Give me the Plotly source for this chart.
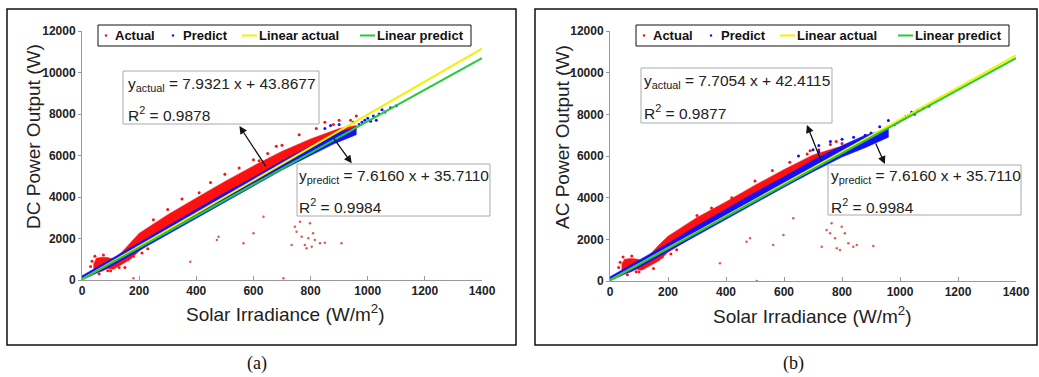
import plotly.graph_objects as go

W, H = 1039, 377

X_TICKS = [0, 200, 400, 600, 800, 1000, 1200, 1400]
Y_TICKS = [0, 2000, 4000, 6000, 8000, 10000, 12000]
Y_TICK_TEXT = ["0", "2000", "4000", "6000", "8000", "10000", "12000"]
FIT_X = [0, 1400]
LEGEND_NAMES = ["Actual", "Predict", "Linear actual", "Linear predict"]

# ---------------- panel (a): DC ----------------
A_RED_X = [40, 50, 70, 90, 110, 140, 170, 200, 300, 400, 500, 600, 700, 800, 900, 960]
A_RED_LO = [550, 380, 420, 560, 520, 760, 1000, 1400, 2400, 3200, 4000, 4800, 5550, 6300, 6900, 7250]
A_RED_HI = [750, 1050, 1100, 1080, 1000, 1350, 1800, 2250, 3150, 3950, 4750, 5500, 6200, 6800, 7300, 7450]
A_BLUE_X = [0, 100, 200, 300, 400, 500, 600, 700, 800, 880, 960]
A_BLUE_LO = [0, 650, 1420, 2200, 2980, 3750, 4520, 5300, 6000, 6550, 7000]
A_BLUE_HI = [200, 1000, 1800, 2600, 3400, 4200, 4950, 5750, 6450, 7050, 7350]
A_RED_EDGE_X = [600, 650, 700, 760, 820, 850, 900, 940, 960, 550, 500, 450, 350, 300, 250,
                120, 140, 160, 180, 130, 60, 90, 75, 45, 210, 230, 410, 620, 680, 880, 30, 35, 100, 150]
A_RED_EDGE_Y = [5800, 6100, 6500, 7000, 7300, 7600, 7700, 7700, 7900, 5400, 5100, 4700, 3900, 3400, 2900,
                700, 850, 1000, 1150, 600, 300, 450, 1200, 1150, 1300, 1500, 4200, 5750, 6450, 7500,
                650, 900, 450, 600]
A_RED_OUT_X = [635, 600, 565, 478, 472, 379, 705, 180, 734, 763, 745, 798, 780, 786, 809, 815,
               833, 850, 908, 769, 751, 792, 804]
A_RED_OUT_Y = [3050, 2250, 1770, 2090, 1930, 880, 80, 80, 1690, 2810, 2570, 2730, 1690, 1525, 2250, 1930,
               1770, 1800, 1770, 2090, 2330, 2010, 1600]
A_BLUE_PTS_X = [970, 990, 1000, 1020, 1040, 1050, 1060, 1080, 1100, 1030, 980, 900, 850, 870, 950, 1010]
A_BLUE_PTS_Y = [7500, 7700, 7800, 7900, 8000, 8200, 8100, 8300, 8400, 7700, 7600, 7500, 7300, 7450, 7600, 7650]
A_FIT_ACTUAL_Y = [43.9, 11148.8]
A_FIT_PREDICT_Y = [35.7, 10698.1]

# ---------------- panel (b): AC ----------------
B_RED_X = [40, 50, 70, 90, 110, 140, 170, 200, 300, 400, 500, 600, 700, 780, 820]
B_RED_LO = [550, 380, 420, 560, 520, 740, 980, 1380, 2250, 3050, 3900, 4650, 5450, 6000, 6300]
B_RED_HI = [800, 1050, 1080, 1060, 1000, 1300, 1750, 2150, 3050, 3800, 4600, 5350, 6050, 6400, 6450]
B_BLUE_X = [0, 100, 200, 300, 400, 500, 600, 700, 800, 880, 960]
B_BLUE_LO = [0, 650, 1420, 2200, 2980, 3750, 4500, 5250, 5950, 6400, 6900]
B_BLUE_HI = [200, 1000, 1800, 2650, 3450, 4250, 5000, 5800, 6500, 7000, 7300]
B_RED_EDGE_X = [500, 560, 620, 680, 690, 720, 760, 800, 780, 120, 140, 160, 180, 60, 90, 75, 45,
                210, 230, 350, 420, 300, 30, 35, 100, 150]
B_RED_EDGE_Y = [4800, 5300, 5700, 6100, 6250, 6300, 6550, 6600, 6700, 700, 850, 1000, 1150, 300, 450,
                1200, 1150, 1300, 1500, 3500, 4000, 3150, 650, 900, 450, 600]
B_RED_OUT_X = [632, 598, 563, 483, 471, 379, 506, 730, 764, 747, 799, 782, 793, 810, 822, 839, 851, 908,
               776, 759]
B_RED_OUT_Y = [3010, 2210, 1730, 2050, 1890, 850, 0, 1650, 2770, 2450, 2610, 1570, 1490, 2290, 1810, 1650,
               1730, 1680, 2050, 2290]
B_BLUE_PTS_X = [700, 720, 760, 800, 840, 880, 900, 930, 960, 980, 1000, 1020, 1040, 1050, 1060, 1080,
                1100, 1010, 1030, 990, 650, 720]
B_BLUE_PTS_Y = [6300, 6500, 6700, 6800, 6900, 7000, 7100, 7400, 7700, 7500, 7700, 7900, 8100, 8000, 8200,
                8300, 8400, 7800, 7950, 7600, 6000, 6200]
B_FIT_ACTUAL_Y = [42.4, 10830.0]
B_FIT_PREDICT_Y = [35.7, 10698.1]

RED, BLUE, YELLOW, GREEN = "#ff1010", "#1010ff", "#f2f200", "#22cc33"
OUT_RED = "#e05a5a"
FONT = "Liberation Sans"


def px(x):
    return x / W


def py(y):
    return 1 - y / H


fig = go.Figure()


def add_panel(xa, ya, rx, rlo, rhi, bx, blo, bhi, rex, rey, rox, roy, bpx, bpy, fa, fp):
    kw = dict(xaxis=xa, yaxis=ya, showlegend=False, hoverinfo="skip")
    fig.add_trace(go.Scatter(x=rx + rx[::-1], y=rlo + rhi[::-1], fill="toself", fillcolor=RED,
                             line=dict(width=0.5, color=RED), mode="lines", **kw))
    fig.add_trace(go.Scatter(x=rex, y=rey, mode="markers", name=LEGEND_NAMES[0],
                             marker=dict(color=RED, size=3), **kw))
    fig.add_trace(go.Scatter(x=rox, y=roy, mode="markers", name=LEGEND_NAMES[0],
                             marker=dict(color=OUT_RED, size=2.5), **kw))
    fig.add_trace(go.Scatter(x=bx + bx[::-1], y=blo + bhi[::-1], fill="toself", fillcolor=BLUE,
                             line=dict(width=0.5, color=BLUE), mode="lines", **kw))
    fig.add_trace(go.Scatter(x=bpx, y=bpy, mode="markers", name=LEGEND_NAMES[1],
                             marker=dict(color=BLUE, size=3), **kw))
    fig.add_trace(go.Scatter(x=FIT_X, y=fa, mode="lines", name=LEGEND_NAMES[2],
                             line=dict(color=YELLOW, width=2), **kw))
    fig.add_trace(go.Scatter(x=FIT_X, y=fp, mode="lines", name=LEGEND_NAMES[3],
                             line=dict(color=GREEN, width=2), **kw))


add_panel("x", "y", A_RED_X, A_RED_LO, A_RED_HI, A_BLUE_X, A_BLUE_LO, A_BLUE_HI,
          A_RED_EDGE_X, A_RED_EDGE_Y, A_RED_OUT_X, A_RED_OUT_Y, A_BLUE_PTS_X, A_BLUE_PTS_Y,
          A_FIT_ACTUAL_Y, A_FIT_PREDICT_Y)
add_panel("x2", "y2", B_RED_X, B_RED_LO, B_RED_HI, B_BLUE_X, B_BLUE_LO, B_BLUE_HI,
          B_RED_EDGE_X, B_RED_EDGE_Y, B_RED_OUT_X, B_RED_OUT_Y, B_BLUE_PTS_X, B_BLUE_PTS_Y,
          B_FIT_ACTUAL_Y, B_FIT_PREDICT_Y)

tickfont = dict(family=FONT, size=12, color="#222", weight="bold")


def xaxis(dom, anchor):
    return dict(domain=dom, anchor=anchor, range=[0, 1400], tickvals=X_TICKS, showgrid=False,
                zeroline=False, showline=True, linecolor="#999", linewidth=1, ticks="inside",
                ticklen=4, tickcolor="#999", tickfont=tickfont, automargin=False)


def yaxis(dom, anchor):
    return dict(domain=dom, anchor=anchor, range=[0, 12000], tickvals=Y_TICKS, ticktext=Y_TICK_TEXT,
                showgrid=False, zeroline=False, showline=True, linecolor="#999", linewidth=1,
                ticks="outside", ticklen=3, tickcolor="#999", tickfont=tickfont, automargin=False)


shapes = []
annotations = []


def text(t, x, y, size, xanchor="left", family=FONT, color="#222", bold=False, angle=0):
    f = dict(family=family, size=size, color=color)
    if bold:
        f["weight"] = "bold"
    annotations.append(dict(text=t, x=px(x), y=py(y), xref="paper", yref="paper", showarrow=False,
                            xanchor=xanchor, yanchor="middle", font=f, textangle=angle, borderpad=0))


def legend_box(dx):
    shapes.append(dict(type="rect", xref="paper", yref="paper", x0=px(98 + dx), x1=px(471 + dx),
                       y0=py(46), y1=py(25), line=dict(color="#111", width=1), fillcolor="white",
                       layer="above"))
    ly = 35.5
    for cx, col in ((106 + dx, RED), (173 + dx, BLUE)):
        shapes.append(dict(type="circle", xref="paper", yref="paper", x0=px(cx - 1.2), x1=px(cx + 1.2),
                           y0=py(ly + 1.2), y1=py(ly - 1.2), fillcolor=col, line=dict(width=0, color=col),
                           layer="above"))
    for x0, col in ((242 + dx, YELLOW), (360 + dx, GREEN)):
        shapes.append(dict(type="line", xref="paper", yref="paper", x0=px(x0), x1=px(x0 + 15),
                           y0=py(ly), y1=py(ly), line=dict(color=col, width=2), layer="above"))
    for name, x0 in zip(LEGEND_NAMES, (114 + dx, 182 + dx, 258 + dx, 376 + dx)):
        text(name, x0, ly, 13, color="#111", bold=True)


def panel_decor(border, box1, box2, l1, l2, l3, l4, t1, t2, arrows, xa, ya, label, label_x,
                ytitle, ytitle_pos, xtitle_pos, legend_dx):
    x0, y0, x1, y1 = border
    shapes.append(dict(type="rect", xref="paper", yref="paper", x0=px(x0), x1=px(x1), y0=py(y1), y1=py(y0),
                       line=dict(color="#111", width=1.5), layer="below"))
    for (bx0, by0, bx1, by1) in (box1, box2):
        shapes.append(dict(type="rect", xref="paper", yref="paper", x0=px(bx0), x1=px(bx1), y0=py(by1),
                           y1=py(by0), line=dict(color="#aaa", width=1), fillcolor="white", layer="above"))
    for (t, (tx, ty)) in ((l1, t1[0]), (l2, t1[1]), (l3, t2[0]), (l4, t2[1])):
        text(t, tx, ty, 15.5)
    for (hx, hy, tx, ty) in arrows:
        annotations.append(dict(text="", x=hx, y=hy, ax=tx, ay=ty, xref=xa, yref=ya, axref=xa, ayref=ya,
                                showarrow=True, arrowhead=2, arrowsize=1.2, arrowwidth=1.3, arrowcolor="#111"))
    text(label, label_x, 363, 18, xanchor="center", family="Liberation Serif", color="#111")
    text(ytitle, ytitle_pos[0], ytitle_pos[1], 19, xanchor="center", angle=-90)
    text("Solar Irradiance (W/m<sup>2</sup>)", xtitle_pos[0], xtitle_pos[1], 19, xanchor="center")
    legend_box(legend_dx)


panel_decor((7, 9, 516, 345), (123, 71, 319, 124), (297, 164, 490, 216),
            "y<sub>actual</sub> = 7.9321 x + 43.8677", "R<sup>2</sup> = 0.9878",
            "y<sub>predict</sub> = 7.6160 x + 35.7110", "R<sup>2</sup> = 0.9984",
            [(127, 84), (127, 114)], [(298, 177), (298, 206)],
            [(551, 7420, 647, 5400), (944, 5624, 878, 6890)], "x", "y", "(a)", 257,
            "DC Power Output (W)", (33, 137), (285, 313), 0)
panel_decor((535, 9, 1037, 345), (641, 68, 832, 123), (828, 165, 1021, 215),
            "y<sub>actual</sub> = 7.7054 x + 42.4115", "R<sup>2</sup> = 0.9877",
            "y<sub>predict</sub> = 7.6160 x + 35.7110", "R<sup>2</sup> = 0.9984",
            [(643, 81), (643, 112)], [(830, 177), (830, 206)],
            [(679, 7490, 731, 5660), (948, 5616, 914, 6670)], "x2", "y2", "(b)", 793,
            "AC Power Output (W)", (562, 137), (812, 315), 538)

fig.update_layout(
    width=W, height=H, autosize=False,
    margin=dict(l=0, r=0, t=0, b=0),
    paper_bgcolor="white", plot_bgcolor="white", showlegend=False,
    xaxis=xaxis([px(82), px(482)], "y"),
    yaxis=yaxis([py(280), py(31)], "x"),
    xaxis2=xaxis([px(610), px(1016)], "y2"),
    yaxis2=yaxis([py(281), py(31)], "x2"),
    shapes=shapes, annotations=annotations,
)

fig.write_html("out.html", config={"displayModeBar": False, "staticPlot": True},
               post_script="document.body.style.margin='0';document.body.style.overflow='hidden';")
